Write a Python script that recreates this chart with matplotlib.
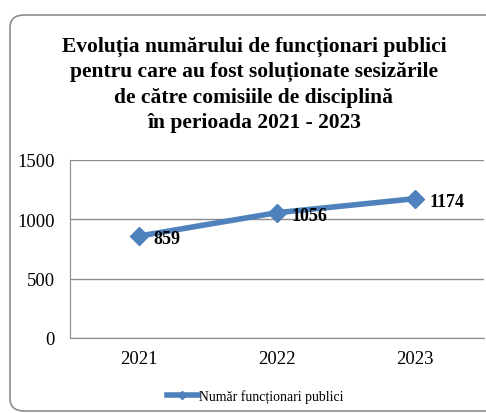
import matplotlib.pyplot as plt
from matplotlib.patches import FancyBboxPatch

years = ["2021", "2022", "2023"]
values = [859, 1056, 1174]
series_name = "Număr funcționari publici"
title = ("Evoluția numărului de funcționari publici\n"
         "pentru care au fost soluționate sesizările\n"
         "de către comisiile de disciplină\n"
         "în perioada 2021 - 2023")

plt.rcParams["font.family"] = ["Liberation Serif", "DejaVu Serif"]

W, H = 486, 414
fig = plt.figure(figsize=(W / 100, H / 100), dpi=100)

# rounded chart border
box = FancyBboxPatch((10 / W, 2 / H), 500 / W, (H - 18) / H,
                     boxstyle="round,pad=0,rounding_size=0.03",
                     transform=fig.transFigure, fill=False,
                     edgecolor="#8c8c8c", linewidth=1.2)
fig.patches.append(box)

fig.text(254 / W, 1 - 85 / H, title, ha="center", va="center",
         fontsize=15.5, fontweight="bold", linespacing=1.36)

ax = fig.add_axes([70 / W, 1 - 339 / H, 414 / W, 178 / H])
x = range(len(years))
ax.plot(x, values, color="#4f81bd", linewidth=4, marker="D",
        markersize=9.5, label=series_name)
for xi, v in zip(x, values):
    ax.annotate(str(v), (xi, v), xytext=(10.5, -2), textcoords="offset points",
                ha="left", va="center", fontsize=13, fontweight="bold")

ax.set_xlim(-0.5, len(years) - 0.5)
ax.set_ylim(0, 1500)
ax.set_yticks([0, 500, 1000, 1500])
ax.set_xticks(list(x))
ax.set_xticklabels(years)
ax.tick_params(axis="both", length=0, labelsize=13.4)
ax.tick_params(axis="x", pad=9)
ax.tick_params(axis="y", pad=11)
ax.grid(axis="y", color="#8c8c8c", linewidth=1)
ax.set_axisbelow(True)
for side in ["top", "right"]:
    ax.spines[side].set_visible(False)
for side in ["left", "bottom"]:
    ax.spines[side].set_color("#8c8c8c")

leg = fig.legend(loc="center", bbox_to_anchor=(255 / W, 1 - 397 / H),
                 frameon=False, fontsize=9.9, handlelength=2.3,
                 handletextpad=0.05, markerscale=0.45)

fig.savefig("out.png", dpi=100)
